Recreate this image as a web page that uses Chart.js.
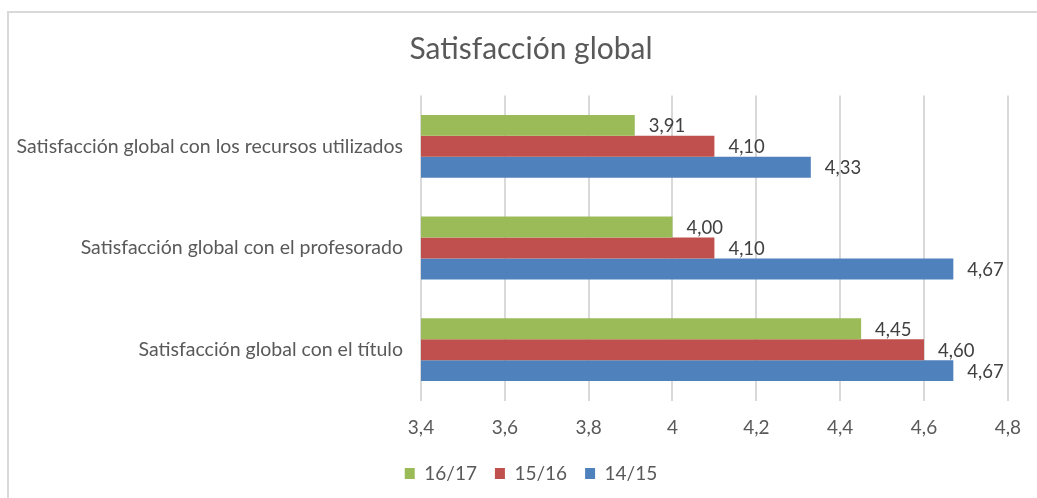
<!DOCTYPE html>
<html lang="es">
<head>
<meta charset="utf-8">
<title>Satisfacción global</title>
<script src="https://cdn.jsdelivr.net/npm/chart.js@4.4.1/dist/chart.umd.min.js"></script>
<style>
    html, body { margin: 0; padding: 0; background: #ffffff; overflow: hidden; }
    #marco {
        position: absolute; left: 7px; top: 11px; width: 1100px; height: 600px;
        border-left: 2px solid #d9d9d9; border-top: 2px solid #d9d9d9;
    }
    #contenedor { position: absolute; left: 0; top: 0; width: 1037px; height: 498px; }
</style>
</head>
<body>
<div id="marco"></div>
<div id="contenedor"><canvas id="satisfaccionChart" width="1037" height="498"></canvas></div>
<script>
// Datos del gráfico
const categorias = [
    'Satisfacción global con los recursos utilizados',
    'Satisfacción global con el profesorado',
    'Satisfacción global con el título'
];
const cursos = ['16/17', '15/16', '14/15'];
const valores1617 = [3.91, 4.00, 4.45];
const valores1516 = [4.10, 4.10, 4.60];
const valores1415 = [4.33, 4.67, 4.67];
const etiquetasEje = ['3,4', '3,6', '3,8', '4', '4,2', '4,4', '4,6', '4,8'];

const fuente = 'Lato, "Open Sans", sans-serif';
const colores = ['#9BBB59', '#C0504D', '#4F81BD'];

// Plugin sencillo para las etiquetas de valor al final de cada barra
const etiquetasValor = {
    id: 'etiquetasValor',
    afterLayout(chart) {
        // que las etiquetas largas del eje Y no se recorten
        chart.scales.y.left = 0;
    },
    afterDatasetsDraw(chart) {
        const ctx = chart.ctx;
        ctx.save();
        ctx.font = '18.5px ' + fuente;
        ctx.fillStyle = '#404040';
        ctx.textAlign = 'left';
        ctx.textBaseline = 'middle';
        chart.data.datasets.forEach(function(ds, i) {
            const meta = chart.getDatasetMeta(i);
            meta.data.forEach(function(barra, j) {
                const texto = ds.data[j].toFixed(2).replace('.', ',');
                ctx.fillText(texto, barra.x + 14, barra.y + 1);
            });
        });
        ctx.restore();
    }
};

const ctx = document.getElementById('satisfaccionChart').getContext('2d');
const datasets = [valores1617, valores1516, valores1415].map(function(valores, i) {
    return {
        label: cursos[i],
        data: valores,
        backgroundColor: colores[i],
        borderWidth: 0,
        categoryPercentage: 0.618,
        barPercentage: 1
    };
});

new Chart(ctx, {
    type: 'bar',
    data: { labels: categorias, datasets: datasets },
    plugins: [etiquetasValor],
    options: {
        indexAxis: 'y',
        responsive: false,
        animation: false,
        layout: { padding: { left: 50, right: 25, top: 0, bottom: 5 } },
        plugins: {
            title: {
                display: true,
                text: 'Satisfacción global',
                color: '#595959',
                font: { family: fuente, size: 30, weight: 'normal', lineHeight: 1.2 },
                padding: { top: 31, bottom: 28.5 }
            },
            legend: {
                position: 'bottom',
                labels: {
                    color: '#595959',
                    font: { family: fuente, size: 19 },
                    boxWidth: 10,
                    boxHeight: 11,
                    padding: 18
                }
            },
            tooltip: { enabled: false }
        },
        scales: {
            x: {
                min: 3.4,
                max: 4.8,
                ticks: {
                    stepSize: 0.2,
                    color: '#595959',
                    font: { family: fuente, size: 19 },
                    padding: 16,
                    callback: function(valor, indice) { return etiquetasEje[indice]; }
                },
                grid: { color: '#d9d9d9', lineWidth: 2, drawTicks: false },
                border: { display: false },
                afterFit: function(escala) { escala.height = 45.5; }
            },
            y: {
                ticks: {
                    color: '#595959',
                    font: { family: fuente, size: 19.5 },
                    padding: 18
                },
                grid: { display: false, drawTicks: false },
                border: { display: false },
                afterFit: function(escala) { escala.width = 371; }
            }
        }
    }
});
</script>
</body>
</html>
